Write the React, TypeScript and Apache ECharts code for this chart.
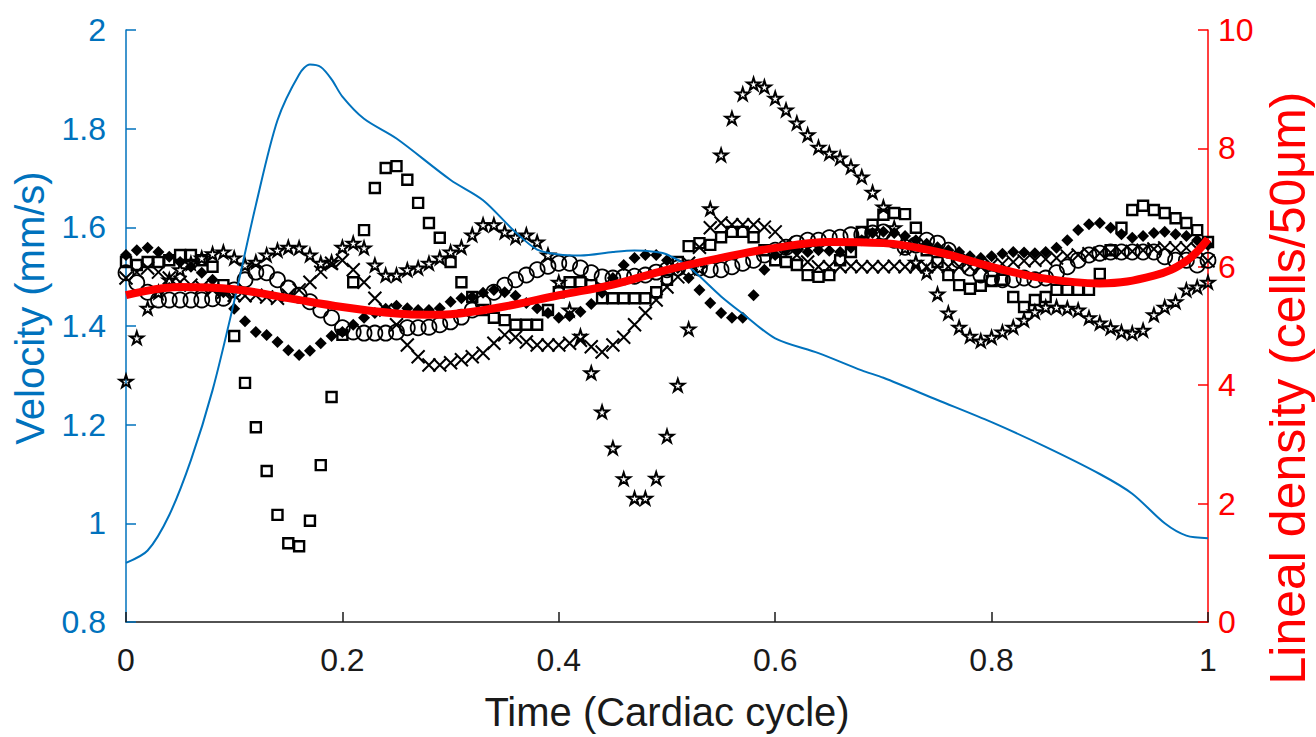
import React, { useEffect, useRef } from "react";
import * as echarts from "echarts";

// Sample times of the marker series (cardiac cycle fraction)
const sampleTimes: number[] = Array.from({ length: 101 }, (_, i) => i / 100);

// Blue velocity curve (mm/s)
const velocityT = [0, 0.02, 0.04, 0.06, 0.08, 0.1, 0.12, 0.14, 0.16, 0.17, 0.18, 0.19, 0.2, 0.22, 0.25, 0.3, 0.33, 0.36, 0.38, 0.4, 0.42, 0.45, 0.47, 0.49, 0.5, 0.52, 0.55, 0.57, 0.6, 0.64, 0.68, 0.7, 0.75, 0.8, 0.85, 0.9, 0.93, 0.96, 0.98, 1.0];
const velocityV = [0.92, 0.945, 1.017, 1.128, 1.27, 1.45, 1.645, 1.817, 1.91, 1.93, 1.925, 1.9, 1.865, 1.82, 1.78, 1.696, 1.655, 1.59, 1.555, 1.545, 1.543, 1.55, 1.553, 1.55, 1.545, 1.52, 1.46, 1.425, 1.375, 1.345, 1.31, 1.295, 1.25, 1.205, 1.155, 1.1, 1.06, 1.0, 0.975, 0.97];

// Red mean lineal density curve (cells/50um)
const densityT = [0, 0.05, 0.1, 0.15, 0.2, 0.25, 0.28, 0.3, 0.35, 0.4, 0.45, 0.5, 0.55, 0.6, 0.65, 0.7, 0.75, 0.8, 0.85, 0.9, 0.95, 0.98, 1.0];
const densityV = [5.52, 5.66, 5.62, 5.47, 5.32, 5.21, 5.19, 5.2, 5.33, 5.52, 5.7, 5.95, 6.15, 6.32, 6.42, 6.4, 6.25, 6.0, 5.8, 5.72, 5.85, 6.1, 6.47];

// Individual samples (cells/50um)
const squares = [
  6.08, 6.03, 6.08, 6.08, 6.11, 6.2, 6.2, 6.11, 6.0, 5.69,
  4.83, 4.04, 3.29, 2.55, 1.81, 1.33, 1.28, 1.71, 2.65, 3.8,
  4.85, 5.74, 6.62, 7.33, 7.67, 7.7, 7.47, 7.08, 6.74, 6.49,
  6.08, 5.74, 5.49, 5.27, 5.14, 5.1, 5.02, 5.02, 5.02, 5.27,
  5.57, 5.74, 5.74, 5.69, 5.47, 5.47, 5.47, 5.47, 5.47, 5.57,
  5.78, 6.08, 6.35, 6.4, 6.37, 6.5, 6.59, 6.59, 6.5, 6.28,
  6.11, 6.08, 6.03, 5.86, 5.83, 5.86, 6.11, 6.25, 6.59, 6.71,
  6.88, 6.91, 6.89, 6.66, 6.28, 6.08, 5.86, 5.69, 5.63, 5.68,
  5.76, 5.78, 5.49, 5.32, 5.44, 5.49, 5.61, 5.61, 5.61, 5.61,
  5.88, 6.28, 6.66, 6.96, 7.03, 6.96, 6.91, 6.82, 6.74, 6.62,
  6.42,
];
const stars = [
  4.07, 4.8, 5.3, 5.57, 5.78, 5.95, 6.06, 6.15, 6.22, 6.25,
  6.15, 6.03, 6.08, 6.2, 6.28, 6.33, 6.32, 6.2, 6.06, 6.08,
  6.33, 6.4, 6.32, 6.03, 5.86, 5.86, 5.95, 5.98, 6.06, 6.15,
  6.25, 6.33, 6.54, 6.71, 6.71, 6.59, 6.5, 6.54, 6.42, 6.2,
  5.74, 5.27, 4.83, 4.21, 3.55, 2.94, 2.42, 2.09, 2.09, 2.43,
  3.14, 4.0, 4.95, 5.98, 6.98, 7.89, 8.51, 8.92, 9.09, 9.04,
  8.85, 8.65, 8.43, 8.23, 8.02, 7.92, 7.84, 7.69, 7.52, 7.26,
  7.01, 6.66, 6.32, 6.08, 5.91, 5.54, 5.22, 4.98, 4.83, 4.75,
  4.81, 4.9, 4.98, 5.1, 5.24, 5.32, 5.32, 5.3, 5.27, 5.14,
  5.05, 4.97, 4.9, 4.88, 4.93, 5.19, 5.32, 5.41, 5.61, 5.66,
  5.74,
];
const circles = [
  5.9, 5.73, 5.57, 5.44, 5.44, 5.44, 5.44, 5.44, 5.46, 5.47,
  5.61, 5.78, 5.91, 5.9, 5.78, 5.64, 5.52, 5.41, 5.27, 5.14,
  4.97, 4.9, 4.88, 4.88, 4.88, 4.9, 4.97, 4.97, 4.98, 5.02,
  5.07, 5.15, 5.27, 5.39, 5.57, 5.69, 5.78, 5.86, 5.95, 6.01,
  6.06, 6.06, 5.98, 5.9, 5.83, 5.81, 5.83, 5.84, 5.86, 5.91,
  5.95, 5.98, 5.98, 5.98, 5.95, 5.95, 6.0, 6.06, 6.11, 6.2,
  6.28, 6.33, 6.4, 6.45, 6.45, 6.49, 6.5, 6.54, 6.54, 6.57,
  6.59, 6.45, 6.33, 6.37, 6.45, 6.4, 6.28, 6.11, 5.98, 5.86,
  5.81, 5.78, 5.78, 5.81, 5.78, 5.81, 5.9, 6.0, 6.11, 6.2,
  6.23, 6.25, 6.25, 6.25, 6.25, 6.25, 6.17, 6.11, 6.11, 6.03,
  6.11,
];
const crosses = [
  5.81, 5.91, 5.98, 5.91, 5.81, 5.74, 5.69, 5.66, 5.61, 5.57,
  5.52, 5.51, 5.52, 5.49, 5.47, 5.52, 5.61, 5.74, 5.91, 6.06,
  6.11, 5.95, 5.74, 5.47, 5.27, 5.02, 4.68, 4.48, 4.34, 4.34,
  4.38, 4.43, 4.48, 4.54, 4.71, 4.85, 4.81, 4.73, 4.68, 4.68,
  4.68, 4.71, 4.76, 4.65, 4.56, 4.68, 4.81, 5.02, 5.22, 5.44,
  5.66, 5.83, 6.06, 6.33, 6.66, 6.74, 6.71, 6.71, 6.71, 6.67,
  6.59, 6.4, 6.2, 6.08, 6.0, 6.0, 6.0, 6.01, 6.0, 6.0,
  6.0, 6.01, 6.0, 6.0, 6.0, 6.01, 6.0, 6.0, 6.0, 6.0,
  6.03, 6.05, 6.08, 6.1, 6.11, 6.13, 6.15, 6.18, 6.2, 6.22,
  6.23, 6.24, 6.25, 6.26, 6.28, 6.3, 6.32, 6.32, 6.32, 6.3,
  6.1,
];
const dots = [
  6.2, 6.28, 6.32, 6.25, 6.17, 6.08, 6.0, 5.9, 5.78, 5.57,
  5.29, 5.08, 4.9, 4.85, 4.73, 4.59, 4.51, 4.58, 4.71, 4.83,
  4.9, 5.02, 5.14, 5.22, 5.29, 5.34, 5.3, 5.27, 5.27, 5.3,
  5.41, 5.47, 5.49, 5.56, 5.61, 5.57, 5.51, 5.39, 5.3, 5.22,
  5.14, 5.17, 5.24, 5.37, 5.56, 5.81, 6.03, 6.15, 6.2, 6.2,
  6.11, 5.98, 5.81, 5.61, 5.39, 5.22, 5.14, 5.14, 5.52, 5.95,
  6.2, 6.28, 6.27, 6.25, 6.28, 6.27, 6.25, 6.32, 6.45, 6.57,
  6.59, 6.57, 6.52, 6.45, 6.39, 6.33, 6.28, 6.25, 6.18, 6.15,
  6.18, 6.22, 6.25, 6.24, 6.23, 6.25, 6.32, 6.45, 6.62, 6.72,
  6.74, 6.66, 6.55, 6.49, 6.52, 6.57, 6.59, 6.55, 6.52, 6.45,
  6.37,
];

const xTicks = { min: 0, max: 1, interval: 0.2 };
const velTicks = { min: 0.8, max: 2, interval: 0.2 };
const denTicks = { min: 0, max: 10, interval: 2 };

const BLUE = "#0072BD";
const RED = "#FF0000";
const DARK = "#1a1a1a";
const FONT = "Liberation Sans, Arial, sans-serif";

const STAR = "path://M50,0 L61,35 L98,35 L68,57 L79,91 L50,70 L21,91 L32,57 L2,35 L39,35 Z";
const CROSS = "path://M0,0 L10,10 M10,0 L0,10";

function pairs(xs: number[], ys: number[]) {
  return ys.map((y, i) => [xs[i], y]);
}

export default function App() {
  const ref = useRef<HTMLDivElement>(null);
  useEffect(() => {
    if (!ref.current) return;
    const chart = echarts.init(ref.current, undefined, { renderer: "svg" });
    const hollow = (bw: number) => ({
      color: "rgba(255,255,255,0)",
      borderColor: "#000",
      borderWidth: bw,
      opacity: 1,
    });
    const scatterBase = {
      type: "scatter" as const,
      yAxisIndex: 1,
      z: 2,
      symbolKeepAspect: true,
      emphasis: { disabled: true },
    };
    chart.setOption({
      animation: false,
      backgroundColor: "#fff",
      grid: { left: 126, right: 108, top: 30, bottom: 115, containLabel: false },
      graphic: [
        {
          type: "text",
          x: 30,
          y: 308,
          rotation: Math.PI / 2,
          style: {
            text: "Velocity (mm/s)",
            fontSize: 40,
            fontFamily: FONT,
            fill: BLUE,
            align: "center",
            verticalAlign: "middle",
          },
        },
        {
          type: "text",
          x: 1288,
          y: 388,
          rotation: Math.PI / 2,
          style: {
            text: "Lineal density (cells/50μm)",
            fontSize: 50,
            fontFamily: FONT,
            fill: RED,
            align: "center",
            verticalAlign: "middle",
          },
        },
      ],
      xAxis: {
        type: "value",
        ...xTicks,
        name: "Time (Cardiac cycle)",
        nameLocation: "middle",
        nameGap: 70,
        nameTextStyle: { fontSize: 40, color: DARK, fontFamily: FONT },
        axisLine: { show: true, onZero: false, lineStyle: { color: DARK, width: 1.5 } },
        axisTick: { show: true, inside: true, length: 10, lineStyle: { color: DARK, width: 1.5 } },
        axisLabel: { fontSize: 32, color: DARK, margin: 22, fontFamily: FONT },
        splitLine: { show: false },
      },
      yAxis: [
        {
          type: "value",
          position: "left",
          ...velTicks,
          axisLine: { show: true, onZero: false, lineStyle: { color: BLUE, width: 1.5 } },
          axisTick: { show: true, inside: true, length: 10, lineStyle: { color: BLUE, width: 1.5 } },
          axisLabel: { fontSize: 32, color: BLUE, margin: 20, fontFamily: FONT },
          splitLine: { show: false },
        },
        {
          type: "value",
          position: "right",
          ...denTicks,
          axisLine: { show: true, onZero: false, lineStyle: { color: RED, width: 1.5 } },
          axisTick: { show: true, inside: true, length: 10, lineStyle: { color: RED, width: 1.5 } },
          axisLabel: { fontSize: 32, color: RED, margin: 10, fontFamily: FONT },
          splitLine: { show: false },
        },
      ],
      series: [
        {
          ...scatterBase,
          name: "samples-squares",
          symbol: "rect",
          symbolSize: 10,
          itemStyle: hollow(2.4),
          data: pairs(sampleTimes, squares),
        },
        {
          ...scatterBase,
          name: "samples-stars",
          symbol: STAR,
          symbolSize: 13,
          itemStyle: hollow(2),
          data: pairs(sampleTimes, stars),
        },
        {
          ...scatterBase,
          name: "samples-circles",
          symbol: "circle",
          symbolSize: 15,
          itemStyle: hollow(1.8),
          data: pairs(sampleTimes, circles),
        },
        {
          ...scatterBase,
          name: "samples-crosses",
          symbol: CROSS,
          symbolSize: 13,
          itemStyle: hollow(2),
          data: pairs(sampleTimes, crosses),
        },
        {
          ...scatterBase,
          name: "samples-dots",
          symbol: "diamond",
          symbolSize: 12,
          itemStyle: { color: "#000", opacity: 1 },
          data: pairs(sampleTimes, dots),
        },
        {
          type: "line",
          name: "Velocity",
          yAxisIndex: 0,
          z: 3,
          showSymbol: false,
          smooth: 0.3,
          lineStyle: { color: BLUE, width: 2 },
          data: pairs(velocityT, velocityV),
        },
        {
          type: "line",
          name: "Lineal density",
          yAxisIndex: 1,
          z: 4,
          showSymbol: false,
          smooth: 0.4,
          lineStyle: { color: RED, width: 8 },
          data: pairs(densityT, densityV),
        },
      ],
    });
    return () => chart.dispose();
  }, []);
  return (
    <div
      ref={ref}
      style={{ position: "fixed", left: 0, top: 0, width: 1316, height: 737, background: "#fff" }}
    />
  );
}
